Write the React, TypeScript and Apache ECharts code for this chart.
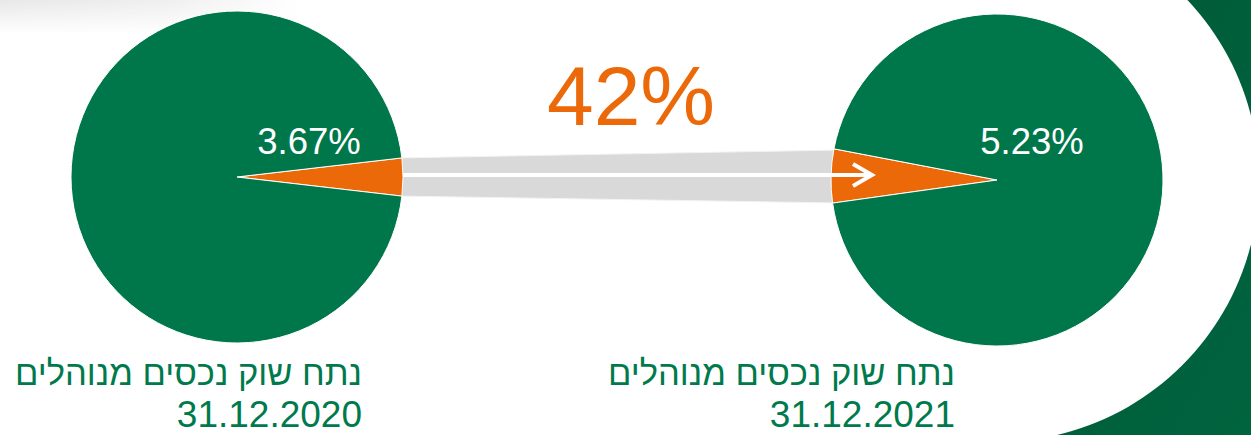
import React, { useEffect, useRef } from "react";
import * as echarts from "echarts";

// ---- data ----
const shareValues = [3.67, 5.23]; // market share (%) at each date
const dates = ["31.12.2020", "31.12.2021"];
const titleText = "נתח שוק נכסים מנוהלים";
const growthLabel = "42%";

const GREEN = "#00774A";
const DARK_GREEN = "#005E3B";
const ORANGE = "#EB6909";
const GREY = "#D9D9D9";
const TEXT_GREEN = "#007A4C";
const FONT = "'Liberation Sans', Arial, sans-serif";

export default function App() {
  const ref = useRef<HTMLDivElement>(null);

  useEffect(() => {
    document.body.style.margin = "0";
    if (!ref.current) return;
    const chart = echarts.init(ref.current, undefined, { renderer: "svg" });

    const pieCenters = [
      [237, 177],
      [997, 180],
    ];
    const startAngles = [6.6, 188];
    const labelCenters = [
      [309, 141],
      [1032, 141],
    ];
    const textRight = [362, 955];

    const series = shareValues.map((v, i) => ({
      type: "pie",
      center: pieCenters[i],
      radius: 166,
      startAngle: startAngles[i],
      clockwise: true,
      silent: true,
      z: 5,
      label: { show: false },
      labelLine: { show: false },
      emphasis: { disabled: true },
      itemStyle: { borderColor: "#ffffff", borderWidth: 1 },
      data: [
        { value: v, itemStyle: { color: ORANGE } },
        { value: 100 - v, itemStyle: { color: GREEN } },
      ],
    }));

    const graphics: any[] = [
      // top-left grey fade
      {
        type: "rect",
        z: 0,
        shape: { x: 0, y: 0, width: 300, height: 34 },
        style: {
          fill: new echarts.graphic.LinearGradient(0, 0, 0, 1, [
            { offset: 0, color: "#e8e8e8" },
            { offset: 1, color: "#ffffff" },
          ]),
        },
      },
      {
        type: "rect",
        z: 0,
        shape: { x: 0, y: 0, width: 300, height: 34 },
        style: {
          fill: new echarts.graphic.LinearGradient(0, 0, 1, 0, [
            { offset: 0, color: "rgba(255,255,255,0)" },
            { offset: 0.55, color: "rgba(255,255,255,0.3)" },
            { offset: 1, color: "rgba(255,255,255,1)" },
          ]),
        },
      },
      // dark green decoration on the right
      {
        type: "rect",
        z: 1,
        shape: { x: 997, y: 0, width: 260, height: 435 },
        style: {
          fill: new echarts.graphic.LinearGradient(0, 0, 1, 1, [
            { offset: 0, color: "#005A38" },
            { offset: 0.5, color: DARK_GREEN },
            { offset: 1, color: "#00643F" },
          ]),
        },
      },
      {
        type: "circle",
        z: 2,
        shape: { cx: 997, cy: 180, r: 262 },
        style: { fill: "#ffffff" },
      },
      // grey connecting band
      {
        type: "polygon",
        z: 3,
        shape: {
          points: [
            [395, 158],
            [840, 150],
            [840, 203],
            [395, 196],
          ],
        },
        style: { fill: GREY, stroke: "#f2f2f2", lineWidth: 1 },
      },
      // white arrow
      {
        type: "line",
        z: 10,
        shape: { x1: 403, y1: 175, x2: 871, y2: 175 },
        style: { stroke: "#ffffff", lineWidth: 4 },
      },
      {
        type: "polyline",
        z: 10,
        shape: {
          points: [
            [853, 164],
            [872, 175],
            [853, 186],
          ],
        },
        style: { stroke: "#ffffff", lineWidth: 4, fill: "none", lineJoin: "miter" },
      },
      // growth label
      {
        type: "text",
        z: 10,
        x: 631,
        y: 96,
        style: {
          text: growthLabel,
          fill: ORANGE,
          font: `84px ${FONT}`,
          textAlign: "center",
          textVerticalAlign: "middle",
        },
      },
    ];

    shareValues.forEach((v, i) => {
      graphics.push({
        type: "text",
        z: 10,
        x: labelCenters[i][0],
        y: labelCenters[i][1],
        style: {
          text: `${v.toFixed(2)}%`,
          fill: "#ffffff",
          font: `36.5px ${FONT}`,
          textAlign: "center",
          textVerticalAlign: "middle",
        },
      });
      graphics.push({
        type: "text",
        z: 10,
        x: textRight[i],
        y: 373,
        style: {
          text: titleText,
          fill: TEXT_GREEN,
          font: `34.5px ${FONT}`,
          lineHeight: 34,
          textAlign: "right",
          textVerticalAlign: "middle",
        },
      });
      graphics.push({
        type: "text",
        z: 10,
        x: textRight[i],
        y: 414.5,
        style: {
          text: dates[i],
          fill: TEXT_GREEN,
          font: `37px ${FONT}`,
          lineHeight: 32,
          textAlign: "right",
          textVerticalAlign: "middle",
        },
      });
    });

    chart.setOption({
      animation: false,
      backgroundColor: "#ffffff",
      series,
      graphic: { elements: graphics },
    });

    return () => chart.dispose();
  }, []);

  return <div ref={ref} style={{ width: 1251, height: 435 }} />;
}
